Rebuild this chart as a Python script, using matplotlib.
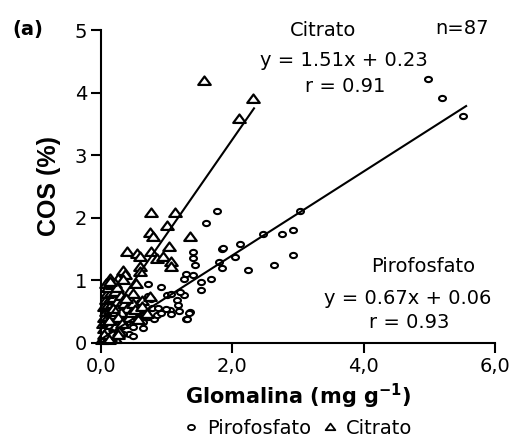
import matplotlib
matplotlib.use("Agg")
import matplotlib.pyplot as plt
import numpy as np
from matplotlib.path import Path
from matplotlib.lines import Line2D

# Citrato (triangles) - glomalina (mg/g) vs COS (%)
cit_x = [1.57, 2.31, 2.10,
         0.76, 1.12, 1.00, 0.75, 0.79, 1.35, 1.03,
         0.40, 0.55, 0.60, 0.76, 0.86, 0.95, 1.07, 1.07, 0.60, 0.60,
         0.34, 0.37, 0.14, 0.26, 0.34, 0.53, 0.21, 0.19, 0.48, 0.62, 0.75,
         0.02, 0.05, 0.10, 0.22, 0.14, 0.05, 0.08, 0.11, 0.03, 0.09,
         0.15, 0.19, 0.05, 0.11, 0.17, 0.07, 0.13, 0.20, 0.04, 0.10,
         0.16, 0.22, 0.07, 0.13, 0.19, 0.25, 0.09, 0.15, 0.21, 0.11,
         0.17, 0.24, 0.08, 0.14, 0.30, 0.35, 0.40, 0.30, 0.42, 0.57,
         0.48, 0.38, 0.26, 0.22, 0.16, 0.28, 0.04, 0.12, 0.32, 0.45,
         0.52, 0.62, 0.18, 0.12, 0.26, 0.70]
cit_y = [4.18, 3.90, 3.58,
         2.07, 2.07, 1.87, 1.76, 1.69, 1.70, 1.53,
         1.46, 1.42, 1.38, 1.45, 1.34, 1.37, 1.30, 1.22, 1.21, 1.14,
         1.15, 1.09, 1.03, 1.03, 1.00, 0.94, 0.95, 0.87, 0.79, 0.67, 0.74,
         0.05, 0.08, 0.06, 0.06, 0.10, 0.23, 0.15, 0.20, 0.30, 0.32,
         0.28, 0.35, 0.40, 0.42, 0.45, 0.50, 0.52, 0.50, 0.58, 0.60,
         0.62, 0.58, 0.68, 0.70, 0.72, 0.66, 0.78, 0.80, 0.82, 0.88,
         0.92, 0.88, 0.95, 0.98, 0.75, 0.62, 0.55, 0.48, 0.40, 0.36,
         0.62, 0.70, 0.40, 0.25, 0.15, 0.18, 0.12, 0.35, 0.30, 0.48,
         0.52, 0.58, 0.55, 0.05, 0.12, 0.46]

# Pirofosfato (circles)
pir_x = [4.98, 5.19, 5.51,
         1.76, 1.60, 3.03, 2.47, 2.75, 2.92, 2.12, 1.84, 1.86, 2.04, 1.80, 1.84, 2.24, 2.63, 2.92,
         1.40, 1.40, 1.43, 1.30, 1.40, 1.26, 1.52, 1.68, 1.52, 1.26, 1.35, 1.30,
         0.72, 0.91, 1.00, 1.07, 1.20, 1.16, 1.18, 1.05, 1.07, 1.19, 1.34, 1.31, 0.76, 0.71,
         0.59, 0.77, 0.87, 0.99, 0.80, 0.64, 0.49, 0.64, 0.43, 0.48, 0.54, 0.44, 0.37, 0.40,
         0.05, 0.10, 0.15, 0.20, 0.08, 0.18, 0.25, 0.30, 0.12, 0.22, 0.28, 0.35, 0.16, 0.25,
         0.32, 0.42, 0.50, 0.56, 0.60, 0.68, 0.72, 0.85, 0.92, 0.20, 0.28, 0.38, 0.46, 0.04, 0.33]
pir_y = [4.21, 3.92, 3.62,
         2.11, 1.91, 2.11, 1.74, 1.74, 1.80, 1.58, 1.50, 1.52, 1.37, 1.29, 1.20, 1.17, 1.25, 1.40,
         1.45, 1.35, 1.25, 1.11, 1.09, 1.03, 0.97, 1.03, 0.84, 0.77, 0.49, 0.39,
         0.94, 0.90, 0.77, 0.78, 0.82, 0.69, 0.61, 0.53, 0.46, 0.51, 0.48, 0.38, 0.71, 0.75,
         0.66, 0.56, 0.56, 0.55, 0.39, 0.34, 0.26, 0.24, 0.15, 0.11, 0.55, 0.50, 0.44, 0.33,
         0.05, 0.08, 0.12, 0.10, 0.18, 0.22, 0.20, 0.25, 0.28, 0.32, 0.38, 0.35, 0.40, 0.45,
         0.50, 0.42, 0.40, 0.45, 0.48, 0.50, 0.42, 0.45, 0.48, 0.55, 0.60, 0.56, 0.60, 0.12, 0.15]

# regression lines (slope, intercept, x range)
cit_fit = (1.51, 0.23, 2.33)
pir_fit = (0.67, 0.06, 5.56)

plt.rcParams['font.family'] = ['DejaVu Sans']

# the original is stretched sideways, so markers are wider than tall
t = np.linspace(0, 2 * np.pi, 40)
ellipse = Path(np.column_stack([np.cos(t), 0.75 * np.sin(t)]), closed=True)
tri = Path([(-1, -0.55), (1, -0.55), (0, 0.8), (-1, -0.55)], closed=True)

fig = plt.figure(figsize=(5.15, 4.38), dpi=100)
ax = fig.add_axes([101/515, 95/438, 394/515, 313/438])

ax.plot(pir_x, pir_y, linestyle='none', marker=ellipse, markersize=5,
        markerfacecolor='white', markeredgecolor='black', markeredgewidth=1.5, clip_on=False)
ax.plot(cit_x, cit_y, linestyle='none', marker=tri, markersize=9,
        markerfacecolor='white', markeredgecolor='black', markeredgewidth=1.6, clip_on=False)

for m, b, xmax in [cit_fit, pir_fit]:
    xx = np.array([0, xmax])
    ax.plot(xx, m * xx + b, color='black', linewidth=1.5)

ax.set_xlim(0, 6)
ax.set_ylim(0, 5)
ax.set_xticks([0, 2, 4, 6])
ax.set_xticklabels(['0,0', '2,0', '4,0', '6,0'])
ax.set_yticks([0, 1, 2, 3, 4, 5])
for s in ['top', 'right']:
    ax.spines[s].set_visible(False)
for s in ['left', 'bottom']:
    ax.spines[s].set_linewidth(1.5)
ax.tick_params(direction='out', length=7, width=1.5, labelsize=14, pad=3)

ax.set_ylabel('COS (%)', family='Liberation Sans', fontweight='bold', fontsize=18, labelpad=10)
ax.set_xlabel('Glomalina (mg g$^{\\mathbf{-1}}$)', fontweight='bold', fontsize=15, labelpad=4)

fig.text(12/515, 1 - 30/438, '(a)', fontweight='bold', fontsize=14, va='center')

txt = dict(fontsize=14, ha='center', va='center')
fig.text(323/515, 1 - 30/438, 'Citrato', **txt)
fig.text(462/515, 1 - 28/438, 'n=87', **txt)
fig.text(344/515, 1 - 60/438, 'y = 1.51x + 0.23', **txt)
fig.text(345/515, 1 - 87/438, 'r = 0.91', **txt)
fig.text(423/515, 1 - 266/438, 'Pirofosfato', **txt)
fig.text(408/515, 1 - 298/438, 'y = 0.67x + 0.06', **txt)
fig.text(409/515, 1 - 323/438, 'r = 0.93', **txt)

handles = [Line2D([], [], linestyle='none', marker=ellipse, markersize=5, markerfacecolor='white',
                  markeredgecolor='black', markeredgewidth=1.3),
           Line2D([], [], linestyle='none', marker=tri, markersize=7, markerfacecolor='white',
                  markeredgecolor='black', markeredgewidth=1.3)]
fig.legend(handles, ['Pirofosfato', 'Citrato'], loc='center', bbox_to_anchor=(298/515, 1 - 428/438),
           ncol=2, frameon=False, fontsize=14, handlelength=0.8, handletextpad=0.4,
           columnspacing=0.6, borderpad=0)

fig.savefig('out.png', dpi=100)
